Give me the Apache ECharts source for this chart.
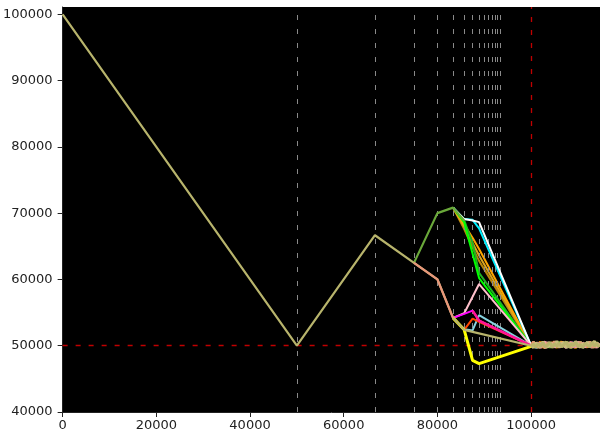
<!DOCTYPE html>
<html>
<head>
<meta charset="utf-8">
<script src="https://cdn.jsdelivr.net/npm/echarts@6/dist/echarts.min.js"></script>
<style>
html,body{margin:0;padding:0;background:#fff;}
#chart{width:600px;height:436px;}
</style>
</head>
<body>
<div id="chart"></div>
<script>
// x positions of path vertices (100000*(1-1/n))
const X_STEPS = [0, 50000, 66667, 75000, 80000, 83333, 85714, 87500, 88889, 100000];
// x positions of the noisy tail after 100000
const X_TAIL = [100000,100500,101000,101500,102000,102500,103000,103500,104000,104500,105000,105500,106000,106500,107000,107500,108000,108500,109000,109500,110000,110500,111000,111500,112000,112500,113000,113500,114000,114500];
// vertical reference lines (harmonic steps)
const V_LINES = [50000, 66667, 75000, 80000, 83333, 85714, 87500, 88889, 90000, 90909, 91667, 92308, 92857, 93333];
const TARGET_X = 100000;
const TARGET_Y = 50000;
const X_TICKS = [0, 20000, 40000, 60000, 80000, 100000];
const Y_TICKS = [40000, 50000, 60000, 70000, 80000, 90000, 100000];

// path values at X_STEPS (null = vertex hidden under another path / not used)
const Y_ORANGE      = [null, null, null, null, null, 70833, 68300, 66300, 64600, 50000];
const Y_GOLDENROD   = [null, null, null, null, null, 70833, 68000, 65500, 63600, 50000];
const Y_DKGOLDENROD = [null, null, null, null, null, 70833, 67600, 64800, 62800, 50000];
const Y_LIME        = [null, null, null, null, null, 70833, 68600, null, 60200, 50000];
const Y_GREEN       = [null, null, null, null, null, 70833, 68900, 65500, 61000, 50000];
const Y_CYAN        = [null, null, null, null, null, 70833, 69100, 69000, 67700, 50000];
const Y_WHITE       = [null, null, null, null, null, 70833, 69100, 68900, 68650, 50000];
const Y_OLIVE       = [null, null, null, 62500, 70000, 70833, 68900, null, null, null];
const Y_LIGHTBLUE   = [null, null, null, null, null, 54200, 52500, 52300, 54600, 50000];
const Y_ORANGERED   = [null, null, null, null, null, 54200, 52400, 54100, 53600, 50000];
const Y_PINK        = [null, null, null, null, null, 54200, 54900, null, 59300, 50000];
const Y_MAGENTA     = [null, null, null, null, null, 54200, 54800, 55300, 53800, 50000];
const Y_DEEPPINK    = [null, null, null, null, null, null, null, 55300, 53800, 50000];
const Y_YELLOW      = [null, null, null, null, null, 54200, 52400, 47800, 47300, 49900];
const Y_KHAKI       = [100000, 50000, 66667, 62500, 60000, 54200, 52400, null, null, 50000];
const Y_SALMON      = [null, null, null, 62500, 60000, 54200, null, null, null, null];

// noisy tails after reaching the target
const T_ORANGE   = [50000,50400,49900,50200,50550,49750,50050,50350,49870,50480,50150,49720,50270,50610,49930,50160,49810,50390,50000,49700,50320,50450,49860,50200,49770,50380,50050,50520,49840,50140];
const T_LIME     = [50000,50050,50300,49700,50150,49880,50420,50250,49760,50060,50380,49820,50530,50100,49900,50290,50470,49680,50130,50340,49850,50560,50020,49780,50190,50440,49730,50080,50500,49900];
const T_LIGHTBLUE= [50000,50300,49700,50000,50380,50120,49830,50500,49950,50210,49780,50330,50080,49870,50450,49740,50280,49940,50510,49820,50170,50350,49760,50040,50490,49880,50230,49790,50410,50060];
const T_PINK     = [50000,49850,50400,50050,49680,50280,50590,49900,50140,50450,49760,50220,49830,50500,50010,49720,50370,49880,50240,49790,50600,49940,50310,49750,50460,50120,49860,50280,49710,50390];
const T_DEEPPINK = [50000,49950,50150,50450,49800,50350,49710,50200,50400,49850,50000,50550,49760,50230,50370,49890,50100,50580,49730,50260,50020,49800,50430,50110,49920,50300,49690,50470,50150,49850];
const T_SALMON   = [50000,50600,50000,49750,50320,50150,49620,50470,50250,49900,50640,50080,49780,50350,49960,50500,50230,49700,50420,50110,49850,50580,49720,50270,50040,50600,49930,49760,50380,50200];
const T_KHAKI2   = [50000,49700,50450,50100,49820,50620,50000,49760,50380,50180,49880,50700,49790,50260,50540,49720,50090,50430,49840,50650,50200,49750,50360,50010,50580,49800,50280,50690,49900,50330];
const T_KHAKI    = [50000,50210,49780,50350,49920,50480,49850,50120,50560,49700,50300,49950,50420,49810,50180,50610,49740,50260,50030,50520,49880,50150,49690,50400,50070,49820,50550,49960,50330,49770];

function build(ys) {
  const d = [];
  ys.forEach((y, i) => { if (y !== null) d.push([X_STEPS[i], y]); });
  return d;
}
function buildTail(ys) {
  return ys.map((y, i) => [X_TAIL[i], y]);
}

const PATHS = [
  {ys: Y_DKGOLDENROD, color: '#b8860b', w: 2},
  {ys: Y_GOLDENROD, color: '#daa520', w: 2},
  {ys: Y_ORANGE, color: '#ffa500', w: 2},
  {ys: Y_GREEN, color: '#22b022', w: 2},
  {ys: Y_LIME, color: '#00ff00', w: 2},
  {ys: Y_CYAN, color: '#00f0ff', w: 2},
  {ys: Y_WHITE, color: '#ffffff', w: 2},
  {ys: Y_OLIVE, color: '#6aa83a', w: 2.2},
  {ys: Y_LIGHTBLUE, color: '#87d3e0', w: 2},
  {ys: Y_ORANGERED, color: '#ff4500', w: 2},
  {ys: Y_PINK, color: '#ffc0cb', w: 2},
  {ys: Y_MAGENTA, color: '#ff00ff', w: 2},
  {ys: Y_DEEPPINK, color: '#ff1493', w: 2.5},
  {ys: Y_YELLOW, color: '#ffff00', w: 3},
  {ys: Y_KHAKI, color: '#b8b46c', w: 2.2},
  {ys: Y_SALMON, color: '#e9967a', w: 2.2},
];
const TAILS = [
  {ys: T_ORANGE, color: '#ffa500'},
  {ys: T_LIME, color: '#7fd04a'},
  {ys: T_LIGHTBLUE, color: '#9fd0d0'},
  {ys: T_PINK, color: '#f4a0a8'},
  {ys: T_DEEPPINK, color: '#e8789a'},
  {ys: T_SALMON, color: '#e0a078'},
  {ys: T_KHAKI2, color: '#c8c07c'},
  {ys: T_KHAKI, color: '#b8b46c'},
];

const series = [];
series.push({
  type: 'line', data: [], silent: true, z: 1,
  markLine: {
    silent: true, symbol: 'none', animation: false, label: {show: false},
    lineStyle: {color: '#8a8a8a', width: 1, type: [5, 9]},
    data: V_LINES.map(v => ({xAxis: v}))
  }
});
PATHS.forEach((p, i) => {
  series.push({
    type: 'line', data: build(p.ys), showSymbol: false, symbol: 'none',
    connectNulls: true, animation: false, z: 2 + i,
    lineStyle: {color: p.color, width: p.w}, itemStyle: {color: p.color}
  });
});
TAILS.forEach((t, i) => {
  series.push({
    type: 'line', data: buildTail(t.ys), showSymbol: false, symbol: 'none',
    animation: false, z: 30 + i,
    lineStyle: {color: t.color, width: 2.8}, itemStyle: {color: t.color}
  });
});
series.push({
  type: 'line', data: [], silent: true, z: 50,
  markLine: {
    silent: true, symbol: 'none', animation: false, label: {show: false},
    lineStyle: {color: '#c00000', width: 1.3, type: [5, 8]},
    data: [{yAxis: TARGET_Y}, {xAxis: TARGET_X}]
  }
});

const chart = echarts.init(document.getElementById('chart'), null, {renderer: 'canvas'});
chart.setOption({
  animation: false,
  backgroundColor: '#ffffff',
  grid: {left: 61, right: 0, top: 7, bottom: 24, show: true, backgroundColor: '#000000', borderWidth: 0},
  xAxis: {
    type: 'value', min: 0, max: 114700,
    axisLine: {show: true, onZero: false, lineStyle: {color: '#222', width: 1}},
    axisTick: {show: true, length: 5, lineStyle: {color: '#222'}, customValues: X_TICKS},
    axisLabel: {customValues: X_TICKS, formatter: v => String(v), color: '#222', fontSize: 13, fontFamily: 'DejaVu Sans', margin: 7},
    splitLine: {show: false}
  },
  yAxis: {
    type: 'value', min: 40000, max: 101100,
    axisLine: {show: true, onZero: false, lineStyle: {color: '#222', width: 1}},
    axisTick: {show: true, length: 5, lineStyle: {color: '#222'}, customValues: Y_TICKS},
    axisLabel: {customValues: Y_TICKS, formatter: v => String(v), color: '#222', fontSize: 13, fontFamily: 'DejaVu Sans', margin: 10},
    splitLine: {show: false}
  },
  series: series
});
</script>
</body>
</html>
